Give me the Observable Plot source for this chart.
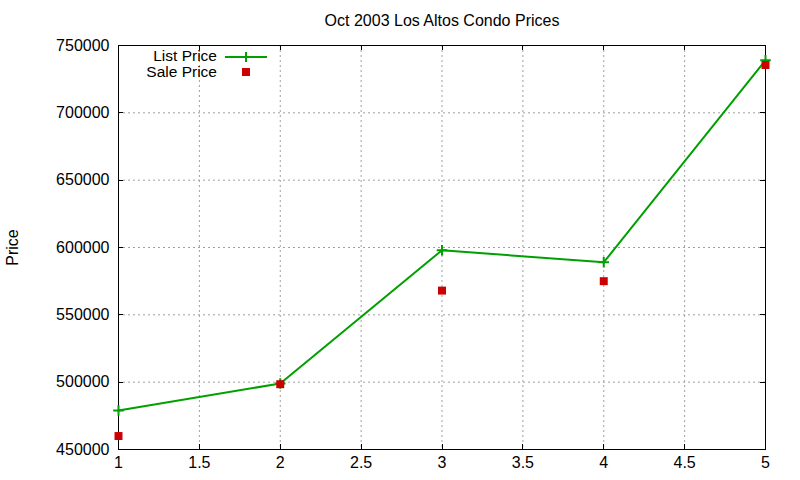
<!DOCTYPE html>
<html>
<head>
<meta charset="utf-8">
<script src="https://cdn.jsdelivr.net/npm/d3@7"></script>
<script src="https://cdn.jsdelivr.net/npm/@observablehq/plot@0.6"></script>
<style>
  html, body { margin: 0; padding: 0; background: #fff; }
  #wrap { position: relative; width: 800px; height: 480px; font-family: "Liberation Sans", Arial, sans-serif; }
  #legend { position: absolute; left: 0; top: 0; pointer-events: none; }
</style>
</head>
<body>
<div id="wrap"></div>
<script>
const homes = [1, 2, 3, 4, 5];
const listPrice = [479000, 499000, 598000, 589000, 739000];
const salePrice = [460000, 498500, 568000, 575000, 735500];
const xTicks = [1, 1.5, 2, 2.5, 3, 3.5, 4, 4.5, 5];
const yTicks = [450000, 500000, 550000, 600000, 650000, 700000, 750000];
const titleText = "Oct 2003 Los Altos Condo Prices";
const yLabel = "Price";
const seriesNames = ["List Price", "Sale Price"];

const GREEN = "#00a000";
const RED = "#cc0000";

const listData = homes.map((h, i) => ({x: h, y: listPrice[i]}));
const saleData = homes.map((h, i) => ({x: h, y: salePrice[i]}));

const fontFamily = '"Liberation Sans", Arial, sans-serif';

const chart = Plot.plot({
  width: 800,
  height: 480,
  marginLeft: 118,
  marginRight: 35,
  marginTop: 45,
  marginBottom: 31,
  style: {fontFamily, fontSize: "16px", background: "#fff", color: "#000"},
  x: {domain: [1, 5]},
  y: {domain: [450000, 750000]},
  marks: [
    Plot.gridX(xTicks, {stroke: "#a0a0a0", strokeOpacity: 1, strokeDasharray: "2,3"}),
    Plot.gridY(yTicks, {stroke: "#a0a0a0", strokeOpacity: 1, strokeDasharray: "2,3"}),
    Plot.axisX(xTicks, {anchor: "bottom", tickSize: 0, tickPadding: 7, fontSize: 16, tickFormat: d => String(d), label: null}),
    Plot.axisY(yTicks, {anchor: "left", tickSize: 0, tickPadding: 9, fontSize: 16, tickFormat: d => String(d), label: null}),
    Plot.frame({stroke: "#000", strokeWidth: 1}),
    Plot.text([titleText], {frameAnchor: "top", dy: -25, fontSize: 16, textAnchor: "middle", lineAnchor: "middle", text: d => d}),
    Plot.text([yLabel], {frameAnchor: "left", dx: -106, rotate: -90, textAnchor: "middle", fontSize: 16, text: d => d}),
    Plot.line(listData, {x: "x", y: "y", stroke: GREEN, strokeWidth: 2}),
    Plot.dot(listData, {x: "x", y: "y", symbol: "plus", r: 3.5, stroke: GREEN, strokeWidth: 2}),
    Plot.dot(saleData, {x: "x", y: "y", symbol: "square", r: 4.5, fill: RED, stroke: null})
  ]
});

// inward ticks (mirrored on all sides), placed with the plot's own scales
const svg = d3.select(chart);
const xs = chart.scale("x"), ys = chart.scale("y");
const x0 = 118, x1 = 800 - 35, y0 = 45, y1 = 480 - 31;
const tg = svg.append("g").attr("stroke", "#000").attr("stroke-width", 1);
for (const t of xTicks) {
  const px = Math.round(xs.apply(t)) + 0.5;
  tg.append("line").attr("x1", px).attr("x2", px).attr("y1", y1).attr("y2", y1 - 5);
  tg.append("line").attr("x1", px).attr("x2", px).attr("y1", y0).attr("y2", y0 + 5);
}
for (const t of yTicks) {
  const py = Math.round(ys.apply(t)) + 0.5;
  tg.append("line").attr("x1", x0).attr("x2", x0 + 5).attr("y1", py).attr("y2", py);
  tg.append("line").attr("x1", x1).attr("x2", x1 - 5).attr("y1", py).attr("y2", py);
}

document.getElementById("wrap").appendChild(chart);

// legend overlay
const leg = d3.select("#wrap").append("svg").attr("id", "legend")
  .attr("width", 800).attr("height", 100)
  .style("font-family", fontFamily).style("font-size", "15.5px");
leg.append("text").attr("x", 217).attr("y", 55).attr("text-anchor", "end").attr("dominant-baseline", "central").text(seriesNames[0]);
leg.append("line").attr("x1", 225).attr("x2", 267).attr("y1", 57).attr("y2", 57).attr("stroke", GREEN).attr("stroke-width", 2);
leg.append("line").attr("x1", 246).attr("x2", 246).attr("y1", 52).attr("y2", 62).attr("stroke", GREEN).attr("stroke-width", 2);
leg.append("text").attr("x", 217).attr("y", 71).attr("text-anchor", "end").attr("dominant-baseline", "central").text(seriesNames[1]);
leg.append("rect").attr("x", 242).attr("y", 68).attr("width", 8).attr("height", 8).attr("fill", RED);
</script>
</body>
</html>
